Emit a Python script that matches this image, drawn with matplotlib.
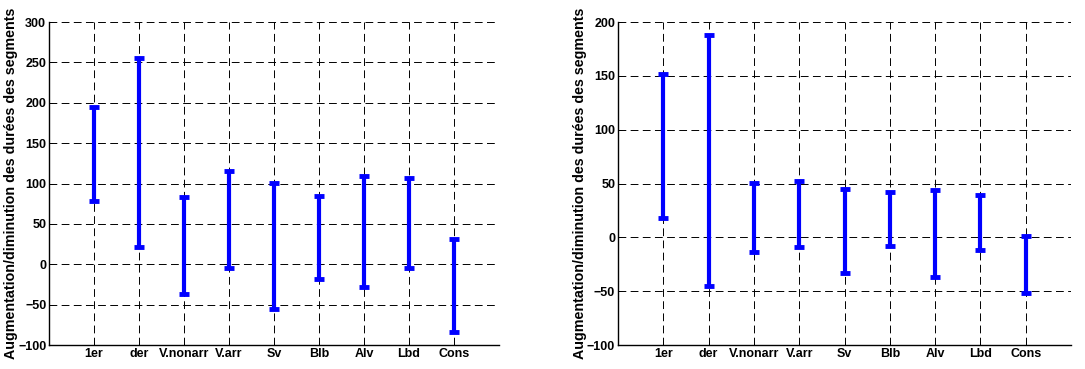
import matplotlib
matplotlib.use("Agg")
import matplotlib.pyplot as plt

plt.rcParams['font.family'] = ['Liberation Sans', 'DejaVu Sans']
plt.rcParams['font.weight'] = 'bold'

categories = ["1er", "der", "V.nonarr", "V.arr", "Sv", "Blb", "Alv", "Lbd", "Cons"]

# panneau gauche
left_high = [195, 255, 83, 115, 101, 85, 109, 107, 31]
left_low = [79, 21, -37, -5, -56, -18, -28, -4, -84]

# panneau droit
right_high = [152, 188, 51, 52, 45, 42, 44, 39, 1]
right_low = [18, -45, -14, -9, -33, -8, -37, -12, -52]

YLABEL = "Augmentation/diminution des durées des segments"
BLUE = (0, 0, 1)
DASH = (0, (8, 4.5))


def draw_panel(ax, high, low, yticks):
	x = list(range(1, len(categories) + 1))
	ax.vlines(x, low, high, color=BLUE, linewidth=3, zorder=3)
	# petits capuchons aux extrémités
	for ends in (high, low):
		ax.plot(x, ends, linestyle='none', marker='_', markersize=6.5,
				markeredgewidth=3.5, color=BLUE, zorder=4)

	ax.set_xlim(0, 10)
	ax.set_ylim(yticks[0], yticks[-1])
	ax.set_xticks(x)
	ax.set_xticklabels(categories)
	ax.set_yticks(yticks)

	# grille pointillée, y compris sur les bords haut et droit
	for yv in yticks:
		ax.axhline(yv, color='black', linestyle=DASH, linewidth=0.7,
				   zorder=1)
	for xv in x + [10]:
		ax.axvline(xv, color='black', linestyle=DASH, linewidth=0.7,
				   zorder=1)

	ax.spines['top'].set_visible(False)
	ax.spines['right'].set_visible(False)
	ax.spines['left'].set_linewidth(1)
	ax.spines['bottom'].set_linewidth(1)
	ax.tick_params(direction='in', length=3, width=0.7, labelsize=9, pad=2)
	ax.set_ylabel(YLABEL, fontsize=10.3, fontweight='bold', labelpad=0)


fig = plt.figure(figsize=(10.85, 3.69), dpi=100)
ax1 = fig.add_axes([0.0452, 0.065, 0.4147, 0.875])
ax2 = fig.add_axes([0.5696, 0.065, 0.4175, 0.875])

draw_panel(ax1, left_high, left_low, list(range(-100, 301, 50)))
draw_panel(ax2, right_high, right_low, list(range(-100, 201, 50)))

fig.savefig("out.png", dpi=100)
